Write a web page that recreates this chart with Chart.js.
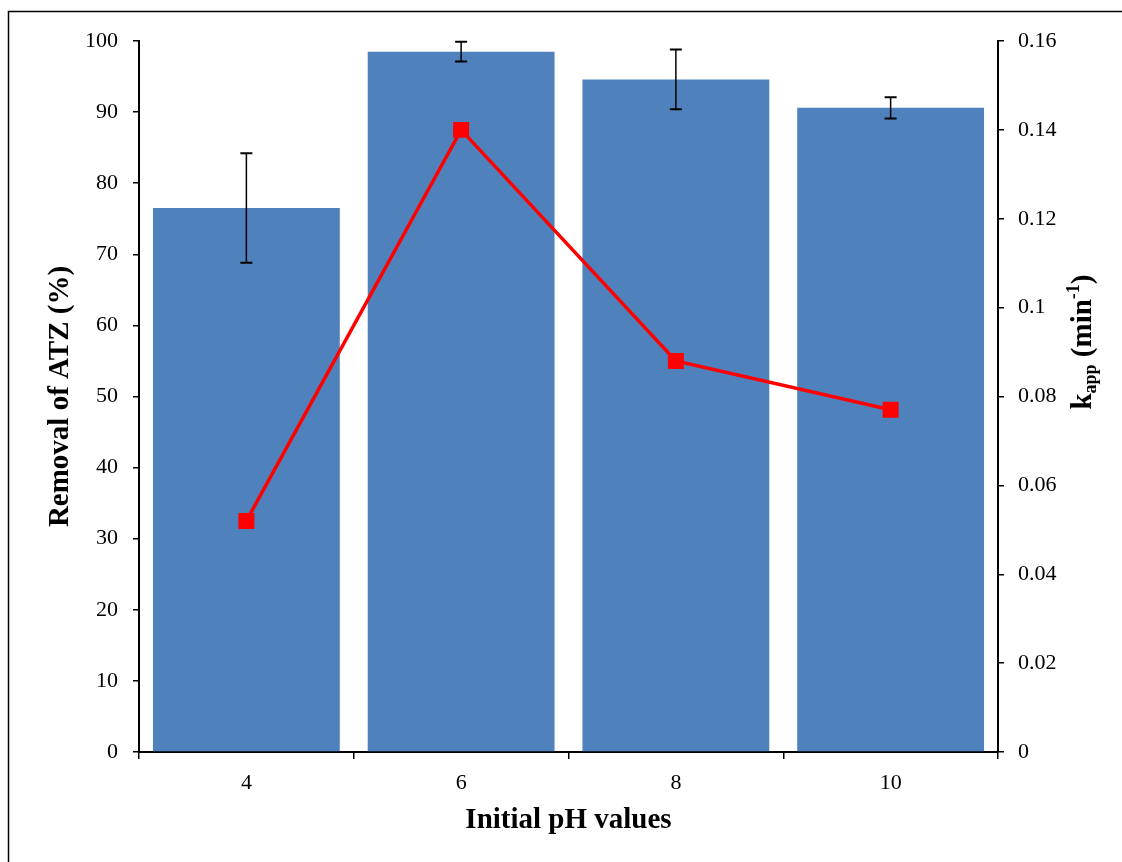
<!DOCTYPE html>
<html>
<head>
<meta charset="utf-8">
<script src="https://cdn.jsdelivr.net/npm/chart.js@4.4.0/dist/chart.umd.min.js"></script>
<style>
  html, body { margin: 0; padding: 0; background: #fff; }
  #wrap { width: 1122px; height: 862px; }
</style>
</head>
<body>
<div id="wrap"><canvas id="chart"></canvas></div>
<script>
// data
const phValues = ['4', '6', '8', '10'];
const removal = [76.5, 98.5, 94.6, 90.6];
const removalErr = [7.7, 1.4, 4.2, 1.5];
const kapp = [0.052, 0.140, 0.088, 0.077];
const leftTicks = [0, 100, 10];
const rightTicks = [0, 0.16, 0.02];

const serif = "'Liberation Serif', 'Times New Roman', serif";

// fond blanc + cadre
const framePlugin = {
  id: 'frame',
  beforeDraw(chart) {
    const ctx = chart.ctx;
    ctx.save();
    ctx.fillStyle = '#fff';
    ctx.fillRect(0, 0, chart.width, chart.height);
    ctx.strokeStyle = '#000';
    ctx.lineWidth = 1.5;
    ctx.strokeRect(8.5, 11.5, chart.width + 20, chart.height + 20);
    ctx.restore();
  }
};

// barres d'erreur
const errorBarPlugin = {
  id: 'errorBars',
  afterDatasetsDraw(chart) {
    const ctx = chart.ctx;
    const meta = chart.getDatasetMeta(1);
    const y = chart.scales.y;
    ctx.save();
    ctx.strokeStyle = '#000';
    meta.data.forEach((bar, i) => {
      const top = y.getPixelForValue(removal[i] + removalErr[i]);
      const bot = y.getPixelForValue(removal[i] - removalErr[i]);
      const x = bar.x;
      ctx.lineWidth = 1.5;
      ctx.beginPath();
      ctx.moveTo(x, top);
      ctx.lineTo(x, bot);
      ctx.stroke();
      ctx.lineWidth = 2;
      ctx.beginPath();
      ctx.moveTo(x - 6, top);
      ctx.lineTo(x + 6, top);
      ctx.moveTo(x - 6, bot);
      ctx.lineTo(x + 6, bot);
      ctx.stroke();
    });
    ctx.restore();
  }
};

// titre axe droit avec indice / exposant
const rightTitlePlugin = {
  id: 'rightTitle',
  afterDraw(chart) {
    const ctx = chart.ctx;
    const cx = 1084, cy = 342;
    const big = 'bold 29px ' + serif;
    const small = 'bold 18px ' + serif;
    const parts = [
      { t: 'k', f: big, dy: 0 },
      { t: 'app', f: small, dy: 7 },
      { t: ' (min', f: big, dy: 0 },
      { t: '-1', f: small, dy: -10 },
      { t: ')', f: big, dy: 0 }
    ];
    ctx.save();
    let total = 0;
    parts.forEach(p => { ctx.font = p.f; p.w = ctx.measureText(p.t).width; total += p.w; });
    ctx.translate(cx, cy);
    ctx.rotate(-Math.PI / 2);
    ctx.fillStyle = '#000';
    ctx.textBaseline = 'middle';
    let x = -total / 2;
    parts.forEach(p => {
      ctx.font = p.f;
      ctx.fillText(p.t, x, p.dy);
      x += p.w;
    });
    ctx.restore();
  }
};

const tickGrid = { drawOnChartArea: false, drawTicks: true, tickLength: 6, color: '#000', lineWidth: 1.5 };

new Chart(document.getElementById('chart'), {
  data: {
    labels: phValues,
    datasets: [
      {
        type: 'line',
        label: 'kapp',
        data: kapp,
        yAxisID: 'y2',
        borderColor: '#FF0000',
        backgroundColor: '#FF0000',
        borderWidth: 3.5,
        pointStyle: 'rect',
        pointRadius: 11.3,
        pointBorderWidth: 0,
        tension: 0,
        order: 0
      },
      {
        type: 'bar',
        label: 'Removal',
        data: removal,
        yAxisID: 'y',
        backgroundColor: '#4F81BD',
        borderWidth: 0,
        barPercentage: 0.87,
        categoryPercentage: 1,
        order: 1
      }
    ]
  },
  options: {
    responsive: true,
    maintainAspectRatio: false,
    animation: false,
    events: [],
    layout: { padding: { left: 0, right: 0, top: 41, bottom: 0 } },
    plugins: {
      legend: { display: false },
      tooltip: { enabled: false }
    },
    scales: {
      x: {
        grid: Object.assign({}, tickGrid, { tickLength: 7, offset: true }),
        border: { color: '#000', width: 2 },
        ticks: { color: '#000', font: { family: serif, size: 22 }, padding: 11 },
        title: {
          display: true,
          text: 'Initial pH values',
          color: '#000',
          font: { family: serif, size: 29, weight: 'bold' },
          padding: { top: 0, bottom: 24 }
        },
        afterFit: s => { s.height = 110; }
      },
      y: {
        position: 'left',
        min: leftTicks[0],
        max: leftTicks[1],
        ticks: { stepSize: leftTicks[2], color: '#000', font: { family: serif, size: 22 }, padding: 15 },
        grid: tickGrid,
        border: { color: '#000', width: 2 },
        title: {
          display: true,
          text: 'Removal of ATZ (%)',
          color: '#000',
          font: { family: serif, size: 29, weight: 'bold' },
          padding: { top: 43, bottom: 0 }
        },
        afterFit: s => { s.width = 139; }
      },
      y2: {
        position: 'right',
        min: rightTicks[0],
        max: rightTicks[1],
        ticks: {
          stepSize: rightTicks[2],
          color: '#000',
          font: { family: serif, size: 22 },
          padding: 14,
          callback: v => String(+v.toFixed(2))
        },
        grid: tickGrid,
        border: { color: '#000', width: 2 },
        afterFit: s => { s.width = 124; }
      }
    }
  },
  plugins: [framePlugin, errorBarPlugin, rightTitlePlugin]
});
</script>
</body>
</html>
